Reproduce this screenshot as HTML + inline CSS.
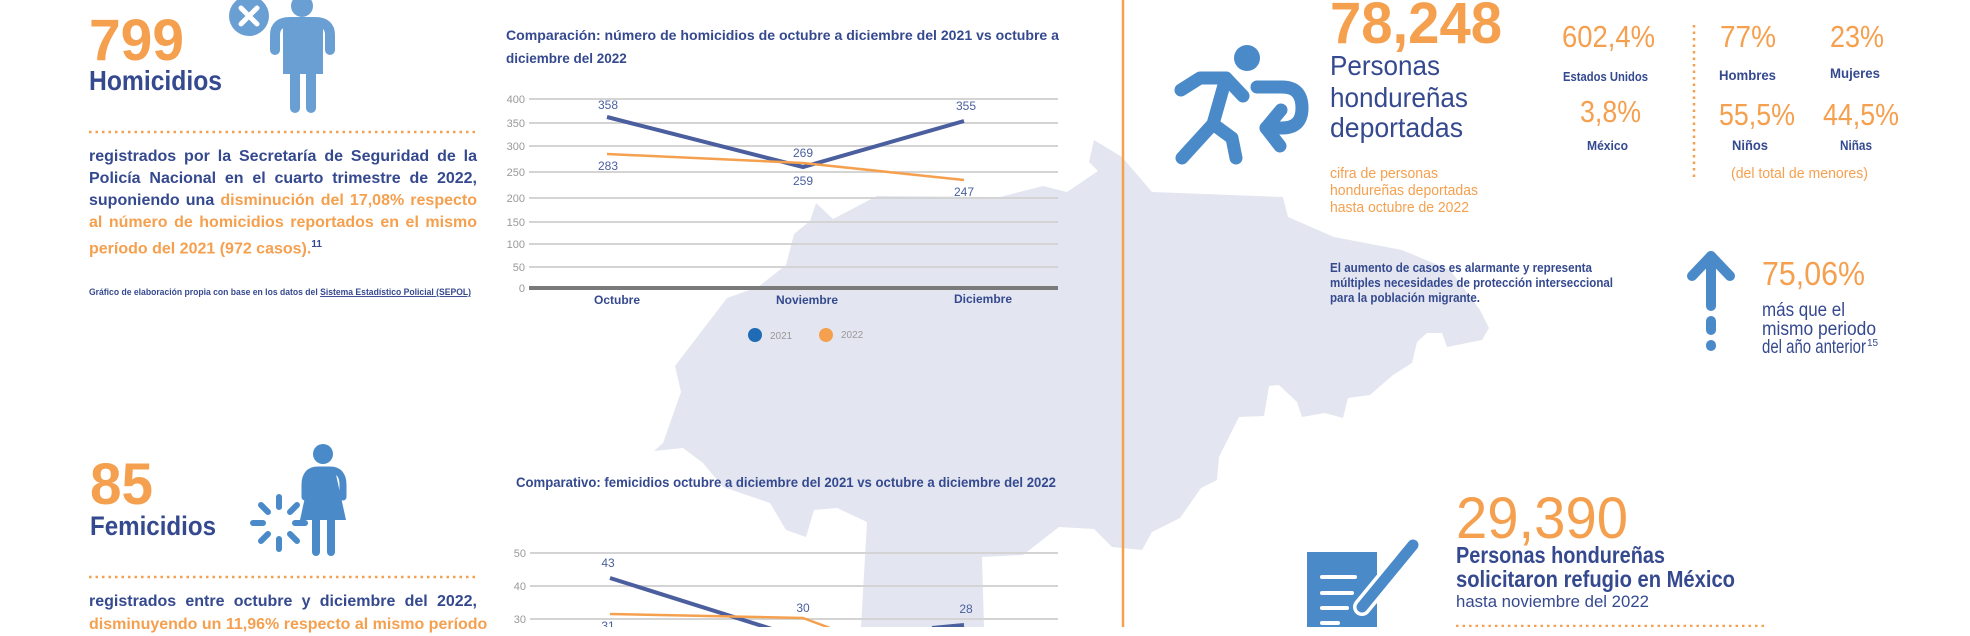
<!DOCTYPE html>
<html><head><meta charset="utf-8"><style>
html,body{margin:0;padding:0;background:#fff;}
body{width:1970px;height:627px;overflow:hidden;position:relative;font-family:"Liberation Sans",sans-serif;}
svg{position:absolute;left:0;top:0;}
.p{position:absolute;left:89px;width:388px;font-size:16px;font-weight:bold;color:#35498f;text-align:justify;text-align-last:justify;white-space:nowrap;line-height:22px;}
.o{color:#f5a04f;}
</style></head><body>
<svg width="1970" height="627" viewBox="0 0 1970 627" font-family="Liberation Sans, sans-serif">
<polygon fill="#e3e6f0" points="1094,140 1122,157 1152,192 1283,197 1288,217 1334,237 1402,250 1450,270 1480,310 1489,328 1482,340 1447,347 1442,333 1427,333 1417,342 1412,363 1393,375 1370,395 1348,398 1343,418 1325,413 1302,417 1297,402 1279,385 1269,386 1264,416 1239,417 1219,457 1217,480 1201,488 1180,518 1152,532 1142,550 1112,547 1094,529 1059,527 1023,555 982,557 984,627 861,627 867,522 837,508 814,510 806,537 786,530 770,503 723,487 703,463 683,448 654,451 663,443 681,392 675,366 727,298 758,287 786,265 794,234 810,221 816,203 833,219 877,196 1000,197 1043,186 1067,192 1098,171 1089,162"/>
<line x1="1123" y1="0" x2="1123" y2="627" stroke="#f5a04f" stroke-width="2.5"/>

<text x="89" y="60" font-size="58" font-weight="bold" fill="#f5a04f" textLength="95" lengthAdjust="spacingAndGlyphs">799</text>
<text x="89" y="90" font-size="28" font-weight="bold" fill="#35498f" textLength="133" lengthAdjust="spacingAndGlyphs">Homicidios</text>
<circle cx="249" cy="16" r="20" fill="#6a9fd4"/>
<path d="M241 8 L257 24 M257 8 L241 24" stroke="#fff" stroke-width="5" stroke-linecap="round"/>
<circle cx="302" cy="6" r="11" fill="#6a9fd4"/>
<path d="M275 50 L275 35 Q275 22 290 22 L315 22 Q330 22 330 35 L330 50" fill="none" stroke="#6a9fd4" stroke-width="10" stroke-linecap="round"/>
<rect x="283" y="22" width="40" height="52" fill="#6a9fd4"/>
<path d="M295 70 L295 108 M311 70 L311 108" stroke="#6a9fd4" stroke-width="10" stroke-linecap="round"/>
<line x1="89" y1="132" x2="477" y2="132" stroke="#f5a04f" stroke-width="2.5" stroke-dasharray="2.5 4"/>
<text x="89" y="295" font-size="9.5" fill="#35498f" font-weight="bold" textLength="382" lengthAdjust="spacingAndGlyphs">Gráfico de elaboración propia con base en los datos del <tspan text-decoration="underline">Sistema Estadístico Policial (SEPOL)</tspan></text>

<text x="506" y="40" font-size="13.5" font-weight="bold" fill="#35498f" textLength="553" lengthAdjust="spacingAndGlyphs">Comparación: número de homicidios de octubre a diciembre del 2021 vs octubre a</text>
<text x="506" y="63" font-size="13.5" font-weight="bold" fill="#35498f">diciembre del 2022</text>
<g stroke="#d4d4d4" stroke-width="2">
<line x1="529" y1="99" x2="1058" y2="99"/><line x1="529" y1="123" x2="1058" y2="123"/><line x1="529" y1="146" x2="1058" y2="146"/><line x1="529" y1="172" x2="1058" y2="172"/><line x1="529" y1="198" x2="1058" y2="198"/><line x1="529" y1="222" x2="1058" y2="222"/><line x1="529" y1="244" x2="1058" y2="244"/><line x1="529" y1="267" x2="1058" y2="267"/>
</g>
<line x1="529" y1="288" x2="1058" y2="288" stroke="#7a7a7a" stroke-width="4"/>
<g font-size="11" fill="#999" text-anchor="end">
<text x="525" y="103">400</text><text x="525" y="127">350</text><text x="525" y="150">300</text><text x="525" y="176">250</text><text x="525" y="202">200</text><text x="525" y="226">150</text><text x="525" y="248">100</text><text x="525" y="271">50</text><text x="525" y="292">0</text>
</g>
<polyline points="607,117 803,167 964,121" fill="none" stroke="#4b5f9e" stroke-width="4"/>
<polyline points="607,154 803,163 964,180" fill="none" stroke="#f5a04f" stroke-width="2.5"/>
<g font-size="12" fill="#4b5f9e" text-anchor="middle">
<text x="608" y="109">358</text><text x="608" y="170">283</text><text x="803" y="157">269</text><text x="803" y="185">259</text><text x="966" y="110">355</text><text x="964" y="196">247</text>
</g>
<g font-size="12" font-weight="bold" fill="#35498f" text-anchor="middle">
<text x="617" y="304">Octubre</text><text x="807" y="304">Noviembre</text><text x="983" y="303">Diciembre</text>
</g>
<circle cx="755" cy="335" r="7" fill="#1f6bb5"/><text x="770" y="339" font-size="10" fill="#999">2021</text>
<circle cx="826" cy="335" r="7" fill="#f5a04f"/><text x="841" y="338" font-size="10" fill="#999">2022</text>

<text x="90" y="504" font-size="58" font-weight="bold" fill="#f5a04f" textLength="63" lengthAdjust="spacingAndGlyphs">85</text>
<text x="90" y="535" font-size="27" font-weight="bold" fill="#35498f" textLength="126" lengthAdjust="spacingAndGlyphs">Femicidios</text>
<circle cx="323" cy="454" r="10" fill="#4a8ac9"/>
<path d="M305 497 L305 485 Q305 470 318 470 L330 470 Q343 470 343 485 L343 497" fill="none" stroke="#4a8ac9" stroke-width="7" stroke-linecap="round"/>
<polygon points="311,470 335,470 346,520 300,520" fill="#4a8ac9"/>
<path d="M316 518 L316 552 M331 518 L331 552" stroke="#4a8ac9" stroke-width="8" stroke-linecap="round"/>
<g stroke="#4a8ac9" stroke-width="6" stroke-linecap="round">
<line x1="279" y1="497" x2="279" y2="507"/><line x1="279" y1="539" x2="279" y2="549"/>
<line x1="253" y1="523" x2="263" y2="523"/><line x1="295" y1="523" x2="305" y2="523"/>
<line x1="261" y1="505" x2="268" y2="512"/><line x1="290" y1="534" x2="297" y2="541"/>
<line x1="297" y1="505" x2="290" y2="512"/><line x1="268" y1="534" x2="261" y2="541"/>
</g>
<line x1="89" y1="577" x2="477" y2="577" stroke="#f5a04f" stroke-width="2.5" stroke-dasharray="2.5 4"/>

<text x="516" y="487" font-size="13.5" font-weight="bold" fill="#35498f" textLength="540" lengthAdjust="spacingAndGlyphs">Comparativo: femicidios octubre a diciembre del 2021 vs octubre a diciembre del 2022</text>
<g stroke="#d4d4d4" stroke-width="2">
<line x1="530" y1="553" x2="1058" y2="553"/><line x1="530" y1="586" x2="1058" y2="586"/><line x1="530" y1="619" x2="1058" y2="619"/>
</g>
<g font-size="11" fill="#999" text-anchor="end">
<text x="526" y="557">50</text><text x="526" y="590">40</text><text x="526" y="623">30</text>
</g>
<polyline points="610,578 775,630" fill="none" stroke="#4b5f9e" stroke-width="4"/>
<polyline points="932,628 964,625" fill="none" stroke="#4b5f9e" stroke-width="4"/>
<polyline points="610,614 803,618 830,628" fill="none" stroke="#f5a04f" stroke-width="2.5"/>
<g font-size="12" fill="#4b5f9e" text-anchor="middle">
<text x="608" y="567">43</text><text x="608" y="630">31</text><text x="803" y="612">30</text><text x="966" y="613">28</text>
</g>

<circle cx="1247" cy="58" r="13" fill="#4a8ac9"/>
<g stroke="#4a8ac9" stroke-width="13" stroke-linecap="round" stroke-linejoin="round" fill="none">
<path d="M1181 90 L1200 78 L1226 78 L1243 96"/>
<path d="M1226 78 L1213 124 L1182 158"/>
<path d="M1213 124 L1232 138 L1236 158"/>
<path d="M1257 87 L1282 87 Q1302 87 1302 108 Q1302 128 1282 128 L1266 128"/>
<path d="M1281 110 L1266 128 L1280 146"/>
</g>
<g font-family="Liberation Sans Narrow, Liberation Sans, sans-serif">
<text x="1330" y="43" font-size="58" fill="#f5a04f" textLength="172" lengthAdjust="spacingAndGlyphs" font-weight="bold">78,248</text>
<text x="1330" y="75" font-size="28" fill="#35498f" textLength="110" lengthAdjust="spacingAndGlyphs">Personas</text>
<text x="1330" y="107" font-size="28" fill="#35498f" textLength="138" lengthAdjust="spacingAndGlyphs">hondureñas</text>
<text x="1330" y="137" font-size="28" fill="#35498f" textLength="133" lengthAdjust="spacingAndGlyphs">deportadas</text>
<g font-size="15" fill="#f5a04f">
<text x="1330" y="178" textLength="108" lengthAdjust="spacingAndGlyphs">cifra de personas</text>
<text x="1330" y="195" textLength="148" lengthAdjust="spacingAndGlyphs">hondureñas deportadas</text>
<text x="1330" y="212" textLength="139" lengthAdjust="spacingAndGlyphs">hasta octubre de 2022</text>
</g>
<text x="1562" y="47" font-size="31" fill="#f5a04f" textLength="93" lengthAdjust="spacingAndGlyphs">602,4%</text>
<text x="1563" y="81" font-size="13" font-weight="bold" fill="#35498f" textLength="85" lengthAdjust="spacingAndGlyphs">Estados Unidos</text>
<text x="1580" y="122" font-size="31" fill="#f5a04f" textLength="61" lengthAdjust="spacingAndGlyphs">3,8%</text>
<text x="1587" y="150" font-size="13" font-weight="bold" fill="#35498f" textLength="41" lengthAdjust="spacingAndGlyphs">México</text>
<line x1="1694" y1="25" x2="1694" y2="180" stroke="#f5a04f" stroke-width="2.5" stroke-dasharray="2.5 4"/>
<text x="1720" y="47" font-size="31" fill="#f5a04f" textLength="56" lengthAdjust="spacingAndGlyphs">77%</text>
<text x="1830" y="47" font-size="31" fill="#f5a04f" textLength="54" lengthAdjust="spacingAndGlyphs">23%</text>
<text x="1719" y="80" font-size="14" font-weight="bold" fill="#35498f" textLength="57" lengthAdjust="spacingAndGlyphs">Hombres</text>
<text x="1830" y="78" font-size="14" font-weight="bold" fill="#35498f" textLength="50" lengthAdjust="spacingAndGlyphs">Mujeres</text>
<text x="1719" y="125" font-size="31" fill="#f5a04f" textLength="76" lengthAdjust="spacingAndGlyphs">55,5%</text>
<text x="1823" y="125" font-size="31" fill="#f5a04f" textLength="76" lengthAdjust="spacingAndGlyphs">44,5%</text>
<text x="1732" y="150" font-size="14" font-weight="bold" fill="#35498f" textLength="36" lengthAdjust="spacingAndGlyphs">Niños</text>
<text x="1840" y="150" font-size="14" font-weight="bold" fill="#35498f" textLength="32" lengthAdjust="spacingAndGlyphs">Niñas</text>
<text x="1731" y="178" font-size="15" fill="#f5a04f" textLength="137" lengthAdjust="spacingAndGlyphs">(del total de menores)</text>
<g font-size="13" font-weight="bold" fill="#35498f">
<text x="1330" y="272" textLength="262" lengthAdjust="spacingAndGlyphs">El aumento de casos es alarmante y representa</text>
<text x="1330" y="287" textLength="283" lengthAdjust="spacingAndGlyphs">múltiples necesidades de protección interseccional</text>
<text x="1330" y="302" textLength="150" lengthAdjust="spacingAndGlyphs">para la población migrante.</text>
</g>
<text x="1762" y="285" font-size="33" fill="#f5a04f" textLength="103" lengthAdjust="spacingAndGlyphs">75,06%</text>
<g font-size="19" fill="#35498f">
<text x="1762" y="316" textLength="83" lengthAdjust="spacingAndGlyphs">más que el</text>
<text x="1762" y="335" textLength="114" lengthAdjust="spacingAndGlyphs">mismo periodo</text>
<text x="1762" y="353" textLength="104" lengthAdjust="spacingAndGlyphs">del año anterior</text>
<text x="1867" y="346" font-size="10">15</text>
</g>
</g>
<g stroke="#4a8ac9" stroke-width="10" stroke-linecap="round" stroke-linejoin="round" fill="none">
<path d="M1711 256 L1711 306"/><path d="M1692 276 L1711 256 L1730 276"/>
<path d="M1711 321 L1711 330"/><path d="M1711 345 L1711 346"/>
</g>

<rect x="1307" y="552" width="70" height="80" fill="#4a8ac9"/>
<g stroke="#fff" stroke-width="4" stroke-linecap="round">
<line x1="1322" y1="577" x2="1355" y2="577"/><line x1="1322" y1="593" x2="1352" y2="593"/><line x1="1322" y1="608" x2="1347" y2="608"/><line x1="1322" y1="623" x2="1338" y2="623"/>
</g>
<line x1="1413" y1="545" x2="1362" y2="607" stroke="#fff" stroke-width="18" stroke-linecap="round"/>
<line x1="1413" y1="545" x2="1362" y2="607" stroke="#4a8ac9" stroke-width="11" stroke-linecap="round"/>
<g font-family="Liberation Sans Narrow, Liberation Sans, sans-serif">
<text x="1456" y="538" font-size="58" fill="#f5a04f" textLength="172" lengthAdjust="spacingAndGlyphs">29,390</text>
<text x="1456" y="563" font-size="23" font-weight="bold" fill="#35498f" textLength="209" lengthAdjust="spacingAndGlyphs">Personas hondureñas</text>
<text x="1456" y="587" font-size="23" font-weight="bold" fill="#35498f" textLength="279" lengthAdjust="spacingAndGlyphs">solicitaron refugio en México</text>
<text x="1456" y="607" font-size="17" fill="#35498f" textLength="193" lengthAdjust="spacingAndGlyphs">hasta noviembre del 2022</text>
</g>
<line x1="1456" y1="626" x2="1768" y2="626" stroke="#f5a04f" stroke-width="2.5" stroke-dasharray="2.5 4"/>
</svg>

<div class="p" style="top:146px">registrados por la Secretaría de Seguridad de la</div>
<div class="p" style="top:168px">Policía Nacional en el cuarto trimestre de 2022,</div>
<div class="p" style="top:190px">suponiendo una <span class="o">disminución del 17,08% respecto</span></div>
<div class="p o" style="top:212px">al número de homicidios reportados en el mismo</div>
<div class="p o" style="top:234px;text-align-last:left">período del 2021 (972 casos).<sup style="font-size:10px;color:#35498f">11</sup></div>
<div class="p" style="top:591px">registrados entre octubre y diciembre del 2022,</div>
<div class="p o" style="top:614px">disminuyendo un 11,96% respecto al mismo período</div>
</body></html>
